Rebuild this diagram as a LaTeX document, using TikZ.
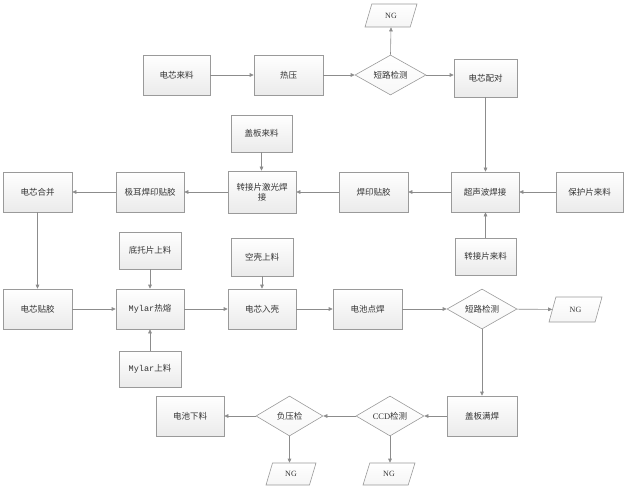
\documentclass[tikz,border=0pt]{standalone}
\usepackage{fontspec}
\setmainfont{Noto Sans CJK SC}
\newfontfamily\latinmono{Liberation Mono}
\newfontfamily\latinserif{Liberation Serif}
\usetikzlibrary{shapes.geometric,arrows.meta,shadows}
\definecolor{edgec}{HTML}{8C8C8C}
\definecolor{borderc}{HTML}{9A9A9A}
\definecolor{txtc}{HTML}{333333}
\begin{document}
\begin{tikzpicture}[x=1pt,y=-1pt,
  every node/.style={text=txtc, font=\fontsize{8.5}{10}\selectfont, align=center},
  box/.style={rectangle, draw=borderc, line width=0.6pt, top color=white, bottom color=gray!16,
    drop shadow={shadow xshift=1.1pt, shadow yshift=-1.1pt, opacity=0.25, fill=gray},
    inner sep=1pt},
  dia/.style={diamond, aspect=2, draw=borderc, line width=0.6pt, top color=white, bottom color=gray!6, inner sep=0pt},
  ngbox/.style={trapezium, trapezium left angle=72, trapezium right angle=108, trapezium stretches=true,
    draw=borderc, line width=0.6pt, top color=white, bottom color=gray!8, inner sep=1pt,
    font=\latinserif\fontsize{8}{9}\selectfont},
  flow/.style={draw=edgec, line width=0.6pt, -{Triangle[length=4pt,width=3.6pt]}}
]
\useasboundingbox (0,0) rectangle (632,500);

% Row 1
\node[box, minimum width=67pt, minimum height=40pt] (a1) at (176.5,75) {电芯来料};
\node[box, minimum width=69pt, minimum height=40pt] (a2) at (288.5,75) {热压};
\node[dia, minimum width=71pt, minimum height=40pt] (a3) at (390.5,75) {短路检测};
\node[ngbox, minimum width=52pt, minimum height=23pt] (ng1) at (391,15.5) {NG};
\node[box, minimum width=63pt, minimum height=38pt] (a4) at (485.5,78) {电芯配对};

% Row 2
\node[box, minimum width=69pt, minimum height=40pt] (b1) at (37.5,192) {电芯合并};
\node[box, minimum width=68pt, minimum height=40pt] (b2) at (150,192) {极耳焊印贴胶};
\node[box, minimum width=68pt, minimum height=42pt] (b3) at (262,192) {转接片激光焊\\接};
\node[box, minimum width=69pt, minimum height=40pt] (b4) at (373.5,192) {焊印贴胶};
\node[box, minimum width=68pt, minimum height=40pt] (b5) at (485,192) {超声波焊接};
\node[box, minimum width=67pt, minimum height=40pt] (b6) at (589.5,192) {保护片来料};
\node[box, minimum width=61pt, minimum height=37pt] (b7) at (261.5,133.5) {盖板来料};
\node[box, minimum width=61pt, minimum height=37pt] (b8) at (485.5,256.5) {转接片来料};

% Row 3
\node[box, minimum width=69pt, minimum height=40pt] (c1) at (37.5,309) {电芯贴胶};
\node[box, minimum width=68pt, minimum height=40pt] (c2) at (150,309) {{\latinmono Mylar}热熔};
\node[box, minimum width=68pt, minimum height=40pt] (c3) at (262,309) {电芯入壳};
\node[box, minimum width=69pt, minimum height=40pt] (c4) at (367.5,309) {电池点焊};
\node[dia, minimum width=70pt, minimum height=40pt] (c5) at (482,309) {短路检测};
\node[ngbox, minimum width=53pt, minimum height=25pt] (ng2) at (575.5,309.5) {NG};
\node[box, minimum width=62pt, minimum height=37pt] (c6) at (150,250.5) {底托片上料};
\node[box, minimum width=62pt, minimum height=38pt] (c7) at (262,257) {空壳上料};
\node[box, minimum width=62pt, minimum height=36pt] (c8) at (150,369) {{\latinmono Mylar}上料};

% Row 4
\node[box, minimum width=70pt, minimum height=40pt] (d1) at (482,416) {盖板满焊};
\node[dia, minimum width=68pt, minimum height=40pt] (d2) at (390,416) {{\latinserif CCD}检测};
\node[dia, minimum width=67pt, minimum height=40pt] (d3) at (289.5,416) {负压检};
\node[box, minimum width=68pt, minimum height=40pt] (d4) at (190,416) {电池下料};
\node[ngbox, minimum width=50pt, minimum height=22pt] (ng3) at (291,474) {NG};
\node[ngbox, minimum width=52pt, minimum height=22pt] (ng4) at (389,474) {NG};

% Connectors row 1
\draw[flow] (a1) -- (a2);
\draw[flow] (a2) -- (a3);
\draw[flow] (a3.east) -- (a3.east -| a4.west);
\draw[flow] (a3.north) -- (ng1.south);
\draw[flow] (a4.south) -- (a4.south |- b5.north);

% Row 2
\draw[flow] (b6) -- (b5);
\draw[flow] (b8.north) -- (b8.north |- b5.south);
\draw[flow] (b5) -- (b4);
\draw[flow] (b4) -- (b3);
\draw[flow] (b7.south) -- (b7.south |- b3.north);
\draw[flow] (b3) -- (b2);
\draw[flow] (b2) -- (b1);
\draw[flow] (b1.south) -- (b1.south |- c1.north);

% Row 3
\draw[flow] (c1) -- (c2);
\draw[flow] (c6.south) -- (c6.south |- c2.north);
\draw[flow] (c8.north) -- (c8.north |- c2.south);
\draw[flow] (c2) -- (c3);
\draw[flow] (c7.south) -- (c7.south |- c3.north);
\draw[flow] (c3) -- (c4);
\draw[flow] (c4) -- (c5);
\draw[flow] (c5) -- (ng2);
\draw[flow] (c5.south) -- (c5.south |- d1.north);

% Row 4
\draw[flow] (d1) -- (d2);
\draw[flow] (d2) -- (d3);
\draw[flow] (d3) -- (d4);
\draw[flow] (d2.south) -- (d2.south |- ng4.north);
\draw[flow] (d3.south) -- (d3.south |- ng3.north);
\end{tikzpicture}
\end{document}
